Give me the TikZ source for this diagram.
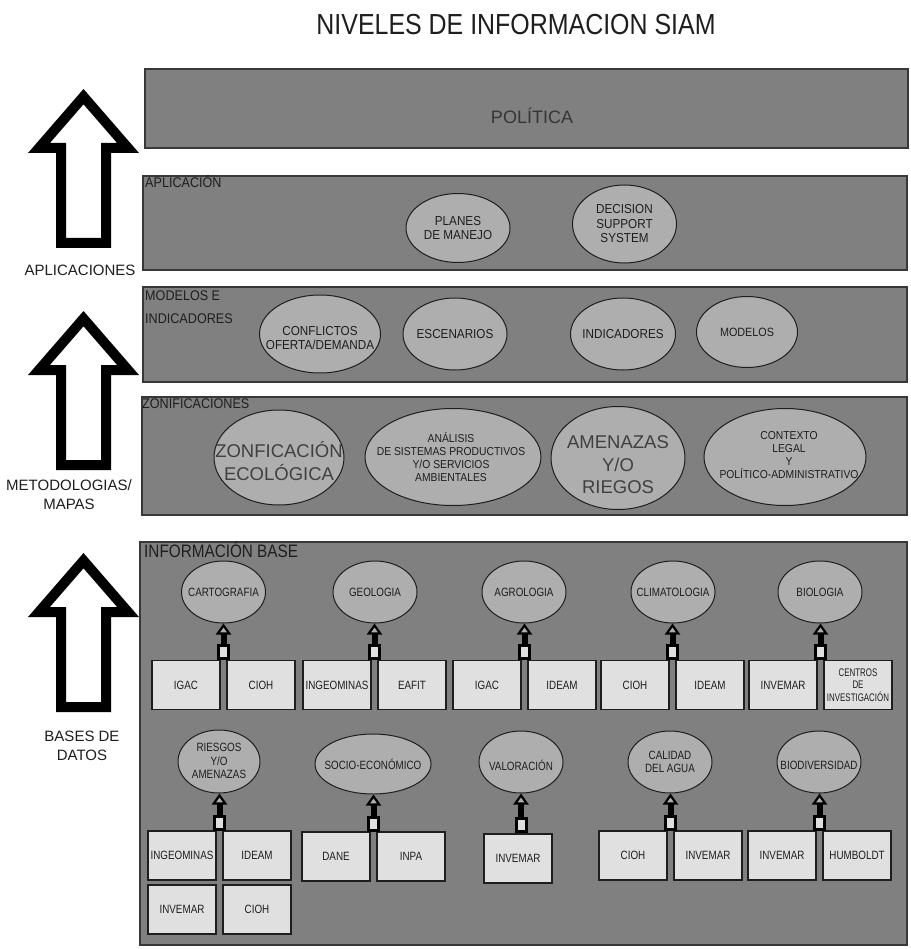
\documentclass[tikz,border=0pt]{standalone}
\usepackage{fontspec}
\setmainfont{Liberation Sans}
\newfontfamily\titlefont{Liberation Sans}[FakeStretch=0.86]
\newfontfamily\condfont{Liberation Sans}[FakeStretch=0.9]
\newfontfamily\narrowfont{Liberation Sans}[FakeStretch=0.82]
\newfontfamily\tightfont{Liberation Sans}[FakeStretch=0.72]
\newfontfamily\basefont{Liberation Sans}[FakeStretch=0.85]
\usetikzlibrary{arrows.meta,shapes.geometric}

\definecolor{levelfill}{HTML}{808080}
\definecolor{levelline}{HTML}{383838}
\definecolor{ellfill}{HTML}{AEAEAE}
\definecolor{boxfill}{HTML}{E0E0E0}
\definecolor{ink}{HTML}{1E1E1E}

\tikzset{
  level/.style={rectangle, draw=levelline, line width=1.6pt, fill=levelfill, inner sep=0pt},
  levellabel/.style={anchor=base west, inner sep=0pt, text=ink, font=\condfont\fontsize{14}{16}\selectfont},
  bubble/.style={ellipse, draw=ink, line width=1pt, fill=ellfill, inner sep=0pt},
  bubtext/.style={align=center, inner sep=0pt, text=ink, font=\condfont\fontsize{13}{14.5}\selectfont},
  bigtext/.style={align=center, inner sep=0pt, text=ink!85, font=\fontsize{18.5}{22.5}\selectfont},
  smalltext/.style={align=center, inner sep=0pt, text=ink, font=\condfont\fontsize{11.5}{13}\selectfont},
  basebub/.style={bubble, minimum width=84pt, minimum height=62pt},
  basetext/.style={align=center, inner sep=0pt, text=ink, font=\narrowfont\fontsize{12}{13.5}\selectfont},
  srcbox/.style={rectangle, draw=ink, line width=1.3pt, fill=boxfill, minimum width=68pt,
    minimum height=49pt, inner sep=0pt, align=center, text=ink, font=\narrowfont\fontsize{12}{13}\selectfont},
  joint/.style={rectangle, draw=black, line width=3pt, fill=boxfill, minimum width=10pt,
    minimum height=13pt, inner sep=0pt},
  feed/.style={draw=black, line width=6pt,
    -{Triangle[width=15pt,length=11pt,fill=ellfill,line width=2.2pt]}},
  sidelabel/.style={align=center, inner sep=0pt, text=ink, font=\fontsize{15}{19}\selectfont},
  flowarrow/.pic={
    \fill[black, even odd rule]
      (0,0) -- (-55.5,64) -- (-27.5,64) -- (-27.5,159) -- (27.5,159) -- (27.5,64) -- (55.5,64) -- cycle
      (0,15.3) -- (-33.6,54) -- (-17.5,54) -- (-17.5,149) -- (17.5,149) -- (17.5,54) -- (33.6,54) -- cycle;
  }
}

\begin{document}
\begin{tikzpicture}[x=1pt,y=-1pt]
\useasboundingbox (0,0) rectangle (910,949);
\fill[white] (0,0) rectangle (910,949);

% heading
\node[anchor=base, inner sep=0pt, text=ink, font=\titlefont\fontsize{29}{32}\selectfont]
  (title) at (516,35) {NIVELES DE INFORMACION SIAM};

% left-hand flow arrows and their captions
\pic at (83.5,89) {flowarrow};
\pic at (83.5,311) {flowarrow};
\pic at (83.5,553) {flowarrow};
\node[sidelabel] (capA) at (80,270) {APLICACIONES};
\node[sidelabel] (capB) at (69,495) {METODOLOGIAS/\\MAPAS};
\node[sidelabel] (capC) at (82,746) {BASES DE\\DATOS};

% level bands
\node[level, minimum width=763pt, minimum height=79pt]  (politica) at (526.5,108.5) {};
\node[level, minimum width=764pt, minimum height=94pt]  (aplic)    at (525,223) {};
\node[level, minimum width=764pt, minimum height=95pt]  (modind)   at (525,334.5) {};
\node[level, minimum width=765pt, minimum height=118pt] (zonif)    at (524.5,456) {};
\node[level, minimum width=767pt, minimum height=403pt] (infobase) at (523.5,743.5) {};

\node[anchor=base, inner sep=0pt, text=ink!90, font=\fontsize{18}{20}\selectfont]
  (politicaT) at (532,123.5) {POLÍTICA};
\node[levellabel] (aplicT) at (145,188) {APLICACIÓN};
\node[levellabel] (modT1) at (145,301) {MODELOS E};
\node[levellabel] (modT2) at (145,323) {INDICADORES};
\node[levellabel] (zonT) at (142,408) {ZONIFICACIONES};
\node[levellabel, font=\basefont\fontsize{18}{20}\selectfont] (infT) at (144,557) {INFORMACIÓN BASE};

% applications
\node[bubble, minimum width=104pt, minimum height=69pt] (planes) at (458,228) {};
\node[bubtext] (planesT) at (planes) {PLANES\\DE MANEJO};
\node[bubble, minimum width=104pt, minimum height=78pt] (dss) at (624.5,224) {};
\node[bubtext] (dssT) at (dss) {DECISION\\SUPPORT\\SYSTEM};

% models and indicators
\node[bubble, minimum width=121pt, minimum height=78pt] (confl) at (320,334) {};
\node[bubtext] (conflT) at (320,338) {CONFLICTOS\\OFERTA/DEMANDA};
\node[bubble, minimum width=104pt, minimum height=72pt] (escen) at (455,334) {};
\node[bubtext] (escenT) at (escen) {ESCENARIOS};
\node[bubble, minimum width=105pt, minimum height=72pt] (indic) at (623,334) {};
\node[bubtext] (indicT) at (indic) {INDICADORES};
\node[bubble, minimum width=101pt, minimum height=71pt] (model) at (747,332) {};
\node[bubtext, font=\condfont\fontsize{12}{13}\selectfont] (modelT) at (model) {MODELOS};

% zonings
\node[bubble, minimum width=130pt, minimum height=95pt] (zeco) at (279,457.5) {};
\node[bigtext] (zecoT) at (279,461) {ZONFICACIÓN\\ECOLÓGICA};
\node[bubble, minimum width=176pt, minimum height=97pt] (anal) at (453,457) {};
\node[smalltext] (analT) at (451,457) {ANÁLISIS\\DE SISTEMAS PRODUCTIVOS\\Y/O SERVICIOS\\AMBIENTALES};
\node[bubble, minimum width=134pt, minimum height=103pt] (amen) at (618,458) {};
\node[bigtext] (amenT) at (618,465) {AMENAZAS\\Y/O\\RIEGOS};
\node[bubble, minimum width=162pt, minimum height=97pt] (ctx) at (785,457) {};
\node[smalltext] (ctxT) at (789,455) {CONTEXTO\\LEGAL\\Y\\POLÍTICO-ADMINISTRATIVO};

% base information, first row
\node[basebub] (cart) at (223.5,592) {};
\node[basetext] (cartT) at (cart) {CARTOGRAFIA};
\node[srcbox] (igacA) at (186,685) {IGAC};
\node[srcbox] (ciohA) at (261,685) {CIOH};
\node[joint] (jA) at (223.5,652) {};
\draw[feed] (jA.north) -- (jA.north |- cart.south);

\node[basebub] (geol) at (375,592) {};
\node[basetext] (geolT) at (geol) {GEOLOGIA};
\node[srcbox] (ingeoA) at (337,685) {INGEOMINAS};
\node[srcbox] (eafit) at (412,685) {EAFIT};
\node[joint] (jB) at (374.5,652) {};
\draw[feed] (jB.north) -- (jB.north |- geol.south);

\node[basebub] (agro) at (524,592) {};
\node[basetext] (agroT) at (agro) {AGROLOGIA};
\node[srcbox] (igacB) at (487,685) {IGAC};
\node[srcbox] (ideamA) at (562,685) {IDEAM};
\node[joint] (jC) at (524.5,652) {};
\draw[feed] (jC.north) -- (jC.north |- agro.south);

\node[basebub] (clim) at (673,592) {};
\node[basetext] (climT) at (clim) {CLIMATOLOGIA};
\node[srcbox] (ciohB) at (635,685) {CIOH};
\node[srcbox] (ideamB) at (710,685) {IDEAM};
\node[joint] (jD) at (672.5,652) {};
\draw[feed] (jD.north) -- (jD.north |- clim.south);

\node[basebub] (bio) at (820,592) {};
\node[basetext] (bioT) at (bio) {BIOLOGIA};
\node[srcbox] (invA) at (783,685) {INVEMAR};
\node[srcbox, font=\tightfont\fontsize{11}{12.5}\selectfont] (centros) at (858,685) {CENTROS\\DE\\INVESTIGACIÓN};
\node[joint] (jE) at (820.5,652) {};
\draw[feed] (jE.north) -- (jE.north |- bio.south);

% base information, second row
\node[basebub, minimum width=82pt, minimum height=63pt] (ries) at (219,761.5) {};
\node[basetext] (riesT) at (219,761) {RIESGOS\\Y/O\\AMENAZAS};
\node[srcbox] (ingeoB) at (182,855.5) {INGEOMINAS};
\node[srcbox] (ideamC) at (257,855.5) {IDEAM};
\node[srcbox] (invB) at (182,909.5) {INVEMAR};
\node[srcbox] (ciohC) at (257,909.5) {CIOH};
\node[joint] (jF) at (219.5,823) {};
\draw[feed] (jF.north) -- (jF.north |- ries.south);

\node[basebub, minimum width=116pt, minimum height=60pt] (socio) at (373,764) {};
\node[basetext] (socioT) at (socio) {SOCIO-ECONÓMICO};
\node[srcbox] (dane) at (336,856.5) {DANE};
\node[srcbox] (inpa) at (411,856.5) {INPA};
\node[joint] (jG) at (373.5,824) {};
\draw[feed] (jG.north) -- (jG.north |- socio.south);

\node[basebub] (valor) at (521,762) {};
\node[basetext] (valorT) at (521,765) {VALORACIÓN};
\node[srcbox] (invC) at (518,858.5) {INVEMAR};
\node[joint] (jH) at (521,825) {};
\draw[feed] (jH.north) -- (jH.north |- valor.south);

\node[basebub] (calid) at (670,762) {};
\node[basetext] (calidT) at (670,762) {CALIDAD\\DEL AGUA};
\node[srcbox] (ciohD) at (633,855.5) {CIOH};
\node[srcbox] (invD) at (708,855.5) {INVEMAR};
\node[joint] (jI) at (670.5,823) {};
\draw[feed] (jI.north) -- (jI.north |- calid.south);

\node[basebub] (biod) at (819,762) {};
\node[basetext] (biodT) at (819,765) {BIODIVERSIDAD};
\node[srcbox] (invE) at (782,855.5) {INVEMAR};
\node[srcbox] (humb) at (857,855.5) {HUMBOLDT};
\node[joint] (jJ) at (819.5,823) {};
\draw[feed] (jJ.north) -- (jJ.north |- biod.south);
\end{tikzpicture}
\end{document}
